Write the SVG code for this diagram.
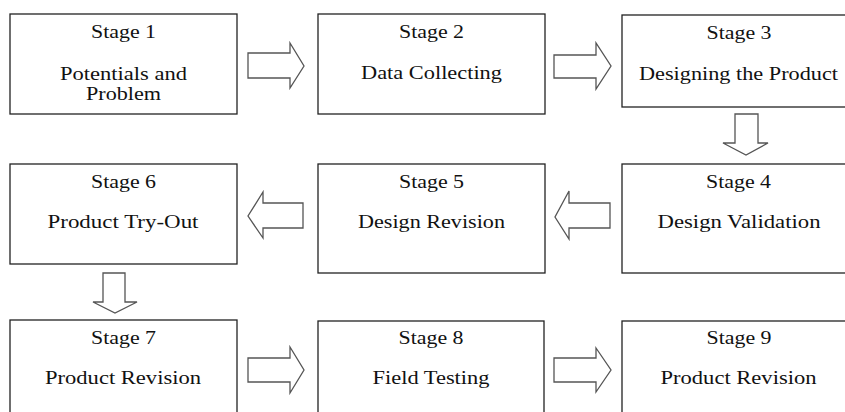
<svg xmlns="http://www.w3.org/2000/svg" width="845" height="412" viewBox="0 0 845 412">
<style>
.box{fill:#fff;stroke:#222;stroke-width:1.3}
.arr{fill:#fff;stroke:#555;stroke-width:1.3;stroke-linejoin:miter}
text{font-family:"Liberation Serif","Times New Roman",serif;font-size:19px;fill:#111;text-anchor:middle}
</style>
<rect width="845" height="412" fill="#fff"/>
<g id="connectors">
<path class="arr" d="M248,53 H290 V43 L304,66 L290,88 V78 H248 Z"/>
<path class="arr" d="M554,55 H596 V43 L611,66 L596,89 V78 H554 Z"/>
<path class="arr" d="M735,114 H758 V143 H768 L746,155 L723,143 H735 Z"/>
<path class="arr" d="M610,203 H569 V191 L555,217 L569,239 V228 H610 Z"/>
<path class="arr" d="M303,203 H263 V192 L248,216 L263,238 V228 H303 Z"/>
<path class="arr" d="M103,273 H125 V302 H137 L115,313 L93,302 H103 Z"/>
<path class="arr" d="M248,358 H290 V347 L304,370 L290,393 V382 H248 Z"/>
<path class="arr" d="M554,358 H596 V348 L611,370 L596,392 V382 H554 Z"/>
</g>
<g id="stage1">
<rect class="box" x="10" y="14" width="227" height="100"/>
<text x="123.5" y="38" textLength="65" lengthAdjust="spacingAndGlyphs">Stage 1</text>
<text x="123.5" y="80" textLength="127" lengthAdjust="spacingAndGlyphs">Potentials and</text>
<text x="123.5" y="100" textLength="75" lengthAdjust="spacingAndGlyphs">Problem</text>
</g>
<g id="stage2">
<rect class="box" x="318" y="14" width="227" height="100"/>
<text x="431.5" y="38" textLength="65" lengthAdjust="spacingAndGlyphs">Stage 2</text>
<text x="431.5" y="79" textLength="141" lengthAdjust="spacingAndGlyphs">Data Collecting</text>
</g>
<g id="stage3">
<rect class="box" x="622" y="15" width="232" height="92"/>
<text x="739" y="39" textLength="65" lengthAdjust="spacingAndGlyphs">Stage 3</text>
<text x="738.5" y="80" textLength="199" lengthAdjust="spacingAndGlyphs">Designing the Product</text>
</g>
<g id="stage4">
<rect class="box" x="622" y="164" width="232" height="109"/>
<text x="738.5" y="188" textLength="65" lengthAdjust="spacingAndGlyphs">Stage 4</text>
<text x="739" y="228" textLength="163" lengthAdjust="spacingAndGlyphs">Design Validation</text>
</g>
<g id="stage5">
<rect class="box" x="318" y="164" width="227" height="109"/>
<text x="431.5" y="188" textLength="65" lengthAdjust="spacingAndGlyphs">Stage 5</text>
<text x="431.5" y="228" textLength="147" lengthAdjust="spacingAndGlyphs">Design Revision</text>
</g>
<g id="stage6">
<rect class="box" x="10" y="164" width="227" height="100"/>
<text x="123.5" y="188" textLength="65" lengthAdjust="spacingAndGlyphs">Stage 6</text>
<text x="123" y="228" textLength="151" lengthAdjust="spacingAndGlyphs">Product Try-Out</text>
</g>
<g id="stage7">
<rect class="box" x="10" y="320" width="227" height="100"/>
<text x="123.5" y="344" textLength="65" lengthAdjust="spacingAndGlyphs">Stage 7</text>
<text x="123" y="384" textLength="156" lengthAdjust="spacingAndGlyphs">Product Revision</text>
</g>
<g id="stage8">
<rect class="box" x="318" y="321" width="226" height="100"/>
<text x="431" y="344" textLength="65" lengthAdjust="spacingAndGlyphs">Stage 8</text>
<text x="431" y="384" textLength="117" lengthAdjust="spacingAndGlyphs">Field Testing</text>
</g>
<g id="stage9">
<rect class="box" x="622" y="321" width="232" height="100"/>
<text x="739" y="344" textLength="65" lengthAdjust="spacingAndGlyphs">Stage 9</text>
<text x="738.5" y="384" textLength="156" lengthAdjust="spacingAndGlyphs">Product Revision</text>
</g>
</svg>
